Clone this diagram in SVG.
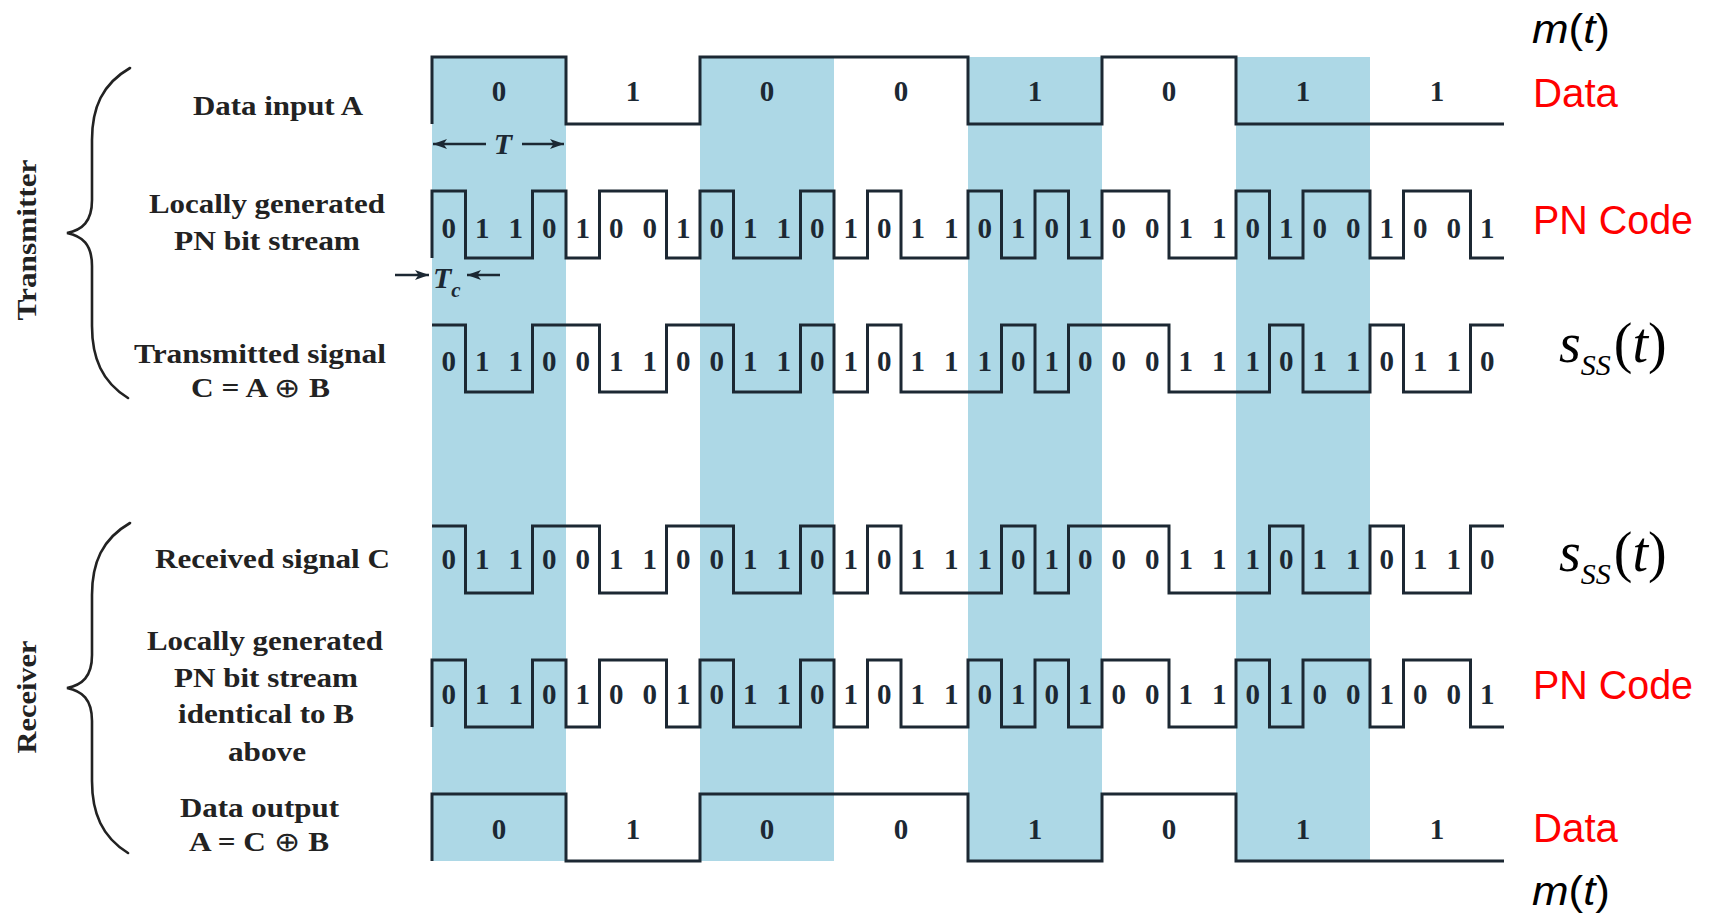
<svg xmlns="http://www.w3.org/2000/svg" xmlns:xlink="http://www.w3.org/1999/xlink" width="1713" height="915" viewBox="0 0 1713 915">
<style>
.bg{fill:#ffffff}
.shade{fill:#ADD8E6}
.wave{fill:none;stroke:#1c2833;stroke-width:3;stroke-linejoin:miter}
.brace{fill:none;stroke:#222;stroke-width:2.6;stroke-linecap:round}
.lbl{font-family:"Liberation Serif","Times New Roman",serif;font-weight:bold;font-size:27px;fill:#222;text-anchor:middle}
.dig{font-family:"Liberation Serif","Times New Roman",serif;font-weight:bold;font-size:29px;fill:#1c2833;text-anchor:middle}
.sym{font-family:"Liberation Serif","Times New Roman",serif;font-weight:bold;font-style:italic;font-size:30px;fill:#1c2833}
.arr{stroke:#1c2833;stroke-width:2.6;fill:none}
.red{font-family:"Liberation Sans",Arial,sans-serif;font-size:41px;fill:#FF0000}
.mt{font-family:"Liberation Sans",Arial,sans-serif;font-size:40px;fill:#000}
.ss{font-family:"Liberation Serif","Times New Roman",serif;font-size:56px;fill:#000}
.op{font-weight:normal}
</style>
<defs>
<marker id="ah" viewBox="0 0 14 10" refX="14" refY="5" markerWidth="14" markerHeight="10" markerUnits="userSpaceOnUse" orient="auto">
<path d="M0,0 L14,5 L0,10 L3.5,5 Z" fill="#1c2833"/>
</marker>
<path id="dataWave" d="M432,67 V0 H566 V67 H700 V0 H968 V67 H1102 V0 H1236 V67 H1504"/>
<path id="pnWave" d="M432,67 V0 H465.5 V67 H532.5 V0 H566 V67 H599.5 V0 H666.5 V67 H700 V0 H733.5 V67 H800.5 V0 H834 V67 H867.5 V0 H901 V67 H968 V0 H1001.5 V67 H1035 V0 H1068.5 V67 H1102 V0 H1169 V67 H1236 V0 H1269.5 V67 H1303 V0 H1370 V67 H1403.5 V0 H1470.5 V67 H1504"/>
<path id="txWave" d="M432,0 H465.5 V67 H532.5 V0 H599.5 V67 H666.5 V0 H733.5 V67 H800.5 V0 H834 V67 H867.5 V0 H901 V67 H1001.5 V0 H1035 V67 H1068.5 V0 H1169 V67 H1269.5 V0 H1303 V67 H1370 V0 H1403.5 V67 H1470.5 V0 H1504"/>
</defs>
<rect class="bg" x="0" y="0" width="1713" height="915"/>

<g id="shading">
<rect class="shade" x="432" y="57" width="134" height="804"/>
<rect class="shade" x="700" y="57" width="134" height="804"/>
<rect class="shade" x="968" y="57" width="134" height="804"/>
<rect class="shade" x="1236" y="57" width="134" height="804"/>
</g>

<g id="transmitter-label">
<path class="brace" d="M130,68 C102,84 92,108 92,140 L92,200 C92,222 82,230 67,233 C82,236 92,244 92,266 L92,326 C92,358 102,382 128,398"/>
<text class="lbl" transform="translate(36,240) rotate(-90)" textLength="161" lengthAdjust="spacingAndGlyphs">Transmitter</text>
</g>
<g id="receiver-label">
<path class="brace" d="M130,523 C102,539 92,563 92,595 L92,655 C92,677 82,685 67,688 C82,691 92,699 92,721 L92,781 C92,813 102,837 128,853"/>
<text class="lbl" transform="translate(36,697) rotate(-90)" textLength="113" lengthAdjust="spacingAndGlyphs">Receiver</text>
</g>

<g id="row-data-input">
<text class="lbl" x="278" y="115" textLength="170" lengthAdjust="spacingAndGlyphs">Data input A</text>
<use xlink:href="#dataWave" href="#dataWave" class="wave" y="57"/>
<text class="dig" x="499 633 767 901 1035 1169 1303 1437" y="101">01001011</text>
<text class="red" x="1533" y="107" textLength="85" lengthAdjust="spacingAndGlyphs">Data</text>
<text class="mt" x="1532" y="43" textLength="78" lengthAdjust="spacingAndGlyphs"><tspan font-style="italic">m</tspan>(<tspan font-style="italic">t</tspan>)</text>
</g>

<g id="row-pn-tx">
<text class="lbl" x="267" y="213" textLength="236" lengthAdjust="spacingAndGlyphs">Locally generated</text>
<text class="lbl" x="267" y="250" textLength="186" lengthAdjust="spacingAndGlyphs">PN bit stream</text>
<use xlink:href="#pnWave" href="#pnWave" class="wave" y="191"/>
<text class="dig" x="448.75 482.25 515.75 549.25 582.75 616.25 649.75 683.25 716.75 750.25 783.75 817.25 850.75 884.25 917.75 951.25 984.75 1018.25 1051.75 1085.25 1118.75 1152.25 1185.75 1219.25 1252.75 1286.25 1319.75 1353.25 1386.75 1420.25 1453.75 1487.25" y="238">01101001011010110101001101001001</text>
<text class="red" x="1533" y="234" textLength="160" lengthAdjust="spacingAndGlyphs">PN Code</text>
</g>

<g id="row-tx">
<text class="lbl" x="260" y="363" textLength="252" lengthAdjust="spacingAndGlyphs">Transmitted signal</text>
<text class="lbl" x="260.5" y="397" textLength="139" lengthAdjust="spacingAndGlyphs">C = A <tspan class="op">⊕</tspan> B</text>
<use xlink:href="#txWave" href="#txWave" class="wave" y="325"/>
<text class="dig" x="448.75 482.25 515.75 549.25 582.75 616.25 649.75 683.25 716.75 750.25 783.75 817.25 850.75 884.25 917.75 951.25 984.75 1018.25 1051.75 1085.25 1118.75 1152.25 1185.75 1219.25 1252.75 1286.25 1319.75 1353.25 1386.75 1420.25 1453.75 1487.25" y="371">01100110011010111010001110110110</text>
<text class="ss" x="1559" y="362"><tspan font-style="italic">s</tspan><tspan font-style="italic" font-size="30" y="375">SS</tspan><tspan y="362" dx="3">(</tspan><tspan font-style="italic">t</tspan>)</text>
</g>

<g id="row-rx">
<text class="lbl" x="272.5" y="568" textLength="235" lengthAdjust="spacingAndGlyphs">Received signal C</text>
<use xlink:href="#txWave" href="#txWave" class="wave" y="526"/>
<text class="dig" x="448.75 482.25 515.75 549.25 582.75 616.25 649.75 683.25 716.75 750.25 783.75 817.25 850.75 884.25 917.75 951.25 984.75 1018.25 1051.75 1085.25 1118.75 1152.25 1185.75 1219.25 1252.75 1286.25 1319.75 1353.25 1386.75 1420.25 1453.75 1487.25" y="569">01100110011010111010001110110110</text>
<text class="ss" x="1559" y="571"><tspan font-style="italic">s</tspan><tspan font-style="italic" font-size="30" y="584">SS</tspan><tspan y="571" dx="3">(</tspan><tspan font-style="italic">t</tspan>)</text>
</g>

<g id="row-pn-rx">
<text class="lbl" x="265" y="650" textLength="236" lengthAdjust="spacingAndGlyphs">Locally generated</text>
<text class="lbl" x="266" y="687" textLength="184" lengthAdjust="spacingAndGlyphs">PN bit stream</text>
<text class="lbl" x="266" y="723" textLength="176" lengthAdjust="spacingAndGlyphs">identical to B</text>
<text class="lbl" x="267" y="761" textLength="78" lengthAdjust="spacingAndGlyphs">above</text>
<use xlink:href="#pnWave" href="#pnWave" class="wave" y="660"/>
<text class="dig" x="448.75 482.25 515.75 549.25 582.75 616.25 649.75 683.25 716.75 750.25 783.75 817.25 850.75 884.25 917.75 951.25 984.75 1018.25 1051.75 1085.25 1118.75 1152.25 1185.75 1219.25 1252.75 1286.25 1319.75 1353.25 1386.75 1420.25 1453.75 1487.25" y="704">01101001011010110101001101001001</text>
<text class="red" x="1533" y="699" textLength="160" lengthAdjust="spacingAndGlyphs">PN Code</text>
</g>

<g id="row-data-output">
<text class="lbl" x="259.5" y="817" textLength="159" lengthAdjust="spacingAndGlyphs">Data output</text>
<text class="lbl" x="259" y="851" textLength="140" lengthAdjust="spacingAndGlyphs">A = C <tspan class="op">⊕</tspan> B</text>
<use xlink:href="#dataWave" href="#dataWave" class="wave" y="794"/>
<text class="dig" x="499 633 767 901 1035 1169 1303 1437" y="839">01001011</text>
<text class="red" x="1533" y="842" textLength="85" lengthAdjust="spacingAndGlyphs">Data</text>
<text class="mt" x="1532" y="905" textLength="78" lengthAdjust="spacingAndGlyphs"><tspan font-style="italic">m</tspan>(<tspan font-style="italic">t</tspan>)</text>
</g>

<g id="connectors">
<line class="arr" x1="486" y1="144" x2="433" y2="144" marker-end="url(#ah)"/>
<line class="arr" x1="522" y1="144" x2="564" y2="144" marker-end="url(#ah)"/>
<line class="arr" x1="395" y1="275" x2="429" y2="275" marker-end="url(#ah)"/>
<line class="arr" x1="500" y1="275" x2="467" y2="275" marker-end="url(#ah)"/>
</g>
<g id="dim-labels">
<text class="sym" x="503" y="154" text-anchor="middle">T</text>
<text class="sym" x="433" y="288">T<tspan font-size="21" y="297">c</tspan></text>
</g>
</svg>
